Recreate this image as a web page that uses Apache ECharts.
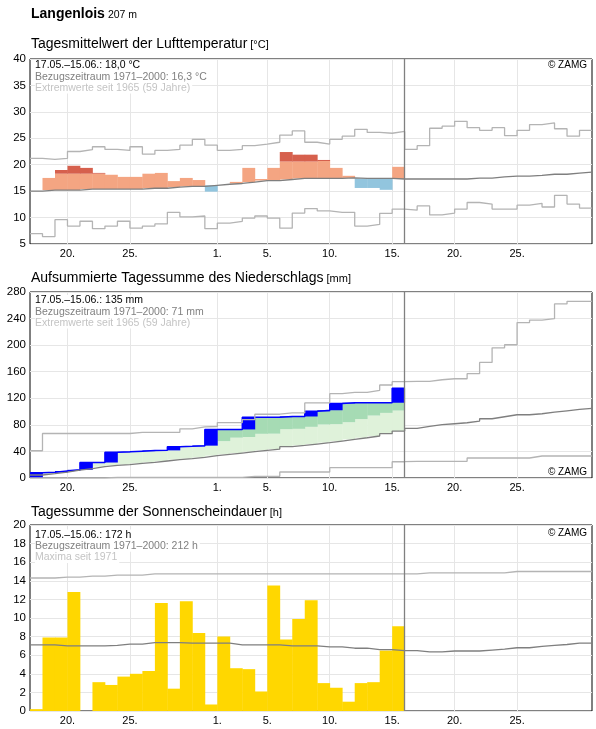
<!DOCTYPE html>
<html>
<head>
<meta charset="utf-8">
<script src="https://cdn.jsdelivr.net/npm/echarts@6/dist/echarts.min.js"></script>
<style>
  html, body { margin: 0; padding: 0; background: #fff; }
  #main { width: 596px; height: 729px; }
</style>
</head>
<body>
<div id="main"></div>
<script>
// days 17.05. - 30.06. (45 days), current period = first 30 days
const dayNums = [17,18,19,20,21,22,23,24,25,26,27,28,29,30,31,
  1,2,3,4,5,6,7,8,9,10,11,12,13,14,15,16,17,18,19,20,21,22,23,24,25,26,27,28,29,30];
const tickDays = [1, 5, 10, 15, 20, 25];

// temperature [°C]
const tempVal = [15.0, 17.5, 19.0, 19.8, 19.4, 18.45, 18.1, 17.7, 17.7, 18.3,
  18.45, 16.9, 17.5, 17.1, 14.9, 16.3, 16.75, 19.4, 17.3, 19.4,
  22.4, 21.9, 21.9, 20.9, 19.4, 17.9, 15.6, 15.6, 15.25, 19.6];
const tempCap = [null, null, 18.3, 18.3, 18.3, 18.3, null, null, null, null,
  null, null, null, null, null, null, null, null, null, null,
  20.6, 20.6, 20.6, 20.7, null, null, null, null, null, null];
const tempMean = [15.0, 15.2, 15.2, 15.2, 15.4, 15.4, 15.4, 15.4, 15.4, 15.55,
  15.55, 15.75, 15.9, 15.9, 16.1, 16.3, 16.45, 16.7, 17.0, 17.0,
  17.2, 17.4, 17.4, 17.4, 17.4, 17.5, 17.4, 17.4, 17.4, 17.3,
  17.3, 17.3, 17.3, 17.3, 17.3, 17.45, 17.45, 17.7, 17.85, 17.85,
  18.0, 18.2, 18.2, 18.4, 18.6];
const tempMax = [21.2, 21.0, 21.2, 22.5, 22.85, 23.4, 22.9, 22.7, 23.4, 22.0,
  22.7, 22.9, 23.7, 24.8, 23.7, 22.7, 22.9, 23.6, 23.9, 24.25,
  25.6, 26.4, 24.25, 23.9, 24.8, 25.4, 26.7, 26.1, 25.95, 26.3,
  22.9, 23.6, 26.9, 27.3, 28.2, 27.0, 26.5, 27.0, 25.5, 26.5,
  27.6, 27.9, 26.8, 25.4, 26.5];
const tempMin = [6.95, 6.4, 9.6, 8.4, 9.3, 7.9, 8.4, 9.3, 8.0, 8.4,
  8.8, 11.0, 10.15, 10.3, 7.9, 8.95, 9.3, 9.9, 10.3, 9.9,
  8.0, 10.85, 11.7, 11.25, 11.0, 11.0, 8.4, 8.7, 10.8, 11.6,
  11.4, 12.2, 10.5, 10.85, 11.6, 12.85, 12.55, 11.6, 11.6, 12.35,
  12.7, 12.0, 14.2, 12.55, 11.8];

// precipitation, accumulated [mm]
const precipCum = [8, 8.5, 10.5, 12.3, 23.3, 23.3, 38.6, 39.4, 40.4, 41.4,
  41.6, 47.2, 47.7, 48.7, 73.1, 73.1, 73.1, 91.3, 91.5, 91.6,
  92.6, 92.6, 100.3, 102, 112.3, 113.2, 113.2, 113.2, 113.3, 135];
const precipLight = [null, null, null, null, null, null, null, null, null, null,
  null, null, null, null, null, 55.5, 60.7, 61.7, 66.5, 66.7,
  73.5, 74, 77, 80.5, 81, 84, 88.7, 94, 98, 101.5];
const precipMean = [4.5, 6.5, 9.0, 12.0, 14.0, 17.0, 19.0, 20.1, 22.0, 23.6,
  25.6, 27.6, 29.1, 31.1, 33.6, 35.6, 37.6, 39.6, 41.6, 43.6,
  47.2, 49.1, 51.1, 53.1, 55.6, 58.1, 60.6, 63.2, 66.7, 70.7,
  74.7, 77.7, 80.2, 81.7, 83.2, 85.7, 89.2, 92.2, 95.2, 95.2,
  96.7, 99.2, 101.2, 103.2, 104.7];
const precipMax = [41, 67, 67, 67, 67, 67, 67, 67, 68.7, 68.7,
  68.7, 68.7, 74, 77, 77.5, 83.5, 83.5, 88, 96, 96,
  98, 98, 113, 113, 127, 129, 129, 132, 140, 145,
  145.4, 145.4, 147.9, 149.4, 149.4, 157, 174, 196, 200.6, 234,
  237.7, 240, 262, 266, 266];
const precipMin = [0, 0, 0, 0, 0, 0, 0.8, 0.8, 0.8, 0.8,
  0.8, 0.8, 0.8, 0.8, 0.8, 0.8, 0.8, 2.5, 2.5, 2.5,
  9, 9, 9, 9, 15.6, 15.6, 15.6, 15.6, 15.6, 24.5,
  25.1, 25.1, 25.1, 25.1, 25.1, 30.1, 30.1, 30.1, 30.1, 30.1,
  33.1, 33.1, 33.1, 33.1, 33.1];

// sunshine [h]
const sunVal = [0.2, 7.9, 7.9, 12.8, 0, 3.1, 2.8, 3.7, 4.0, 4.3,
  11.6, 2.4, 11.8, 8.4, 0.7, 8.0, 4.6, 4.5, 2.1, 13.5,
  7.7, 9.9, 11.9, 3.0, 2.5, 1.0, 3.0, 3.1, 6.5, 9.1];
const sunMean = [7.1, 7.1, 7.0, 7.0, 7.0, 7.0, 7.05, 7.2, 7.2, 7.35,
  7.35, 7.35, 7.3, 7.3, 7.3, 7.3, 7.1, 7.1, 7.1, 7.1,
  7.0, 7.0, 7.0, 6.9, 6.9, 6.75, 6.75, 6.6, 6.6, 6.5,
  6.5, 6.35, 6.35, 6.45, 6.45, 6.45, 6.55, 6.65, 6.8, 6.8,
  6.95, 7.05, 7.15, 7.3, 7.3];
const sunMax = [14.3, 14.3, 14.4, 14.4, 14.5, 14.5, 14.6, 14.6, 14.6, 14.75,
  14.75, 14.75, 14.75, 14.75, 14.75, 14.75, 14.75, 14.75, 14.75, 14.75,
  14.75, 14.75, 14.75, 14.75, 14.75, 14.75, 14.75, 14.75, 14.75, 14.75,
  14.75, 14.85, 14.85, 14.85, 14.85, 14.85, 14.85, 14.85, 15.0, 15.0,
  15.0, 15.0, 15.0, 15.0, 15.0];

const FONT = "'Liberation Sans', Arial, sans-serif";
const NDAYS = dayNums.length;
const PERIOD = tempVal.length;

const grids = [
  { left: 30, right: 4, top: 59, height: 185 },
  { left: 30, right: 4, top: 292, height: 186 },
  { left: 30, right: 4, top: 525, height: 186 }
];
const yRanges = [[5, 40, 5], [0, 280, 40], [0, 20, 2]];

function stepData(arr) {
  const d = arr.map((v, i) => [i, v]);
  d.push([arr.length, arr[arr.length - 1]]);
  return d;
}

function isTick(i) {
  return i > 0 && i < NDAYS && tickDays.includes(dayNums[i]);
}

const catLabels = dayNums.map(d => d + '.').concat(['']);

const xAxes = [];
const yAxes = [];
grids.forEach((g, gi) => {
  xAxes.push({
    type: 'value', gridIndex: gi, min: 0, max: NDAYS, show: false
  });
  xAxes.push({
    type: 'category', gridIndex: gi, position: 'bottom', boundaryGap: false,
    data: catLabels,
    axisLine: { show: false },
    axisTick: { show: false },
    axisLabel: {
      interval: (i) => isTick(i),
      color: '#000', fontFamily: FONT, fontSize: 11, margin: 4
    },
    splitLine: {
      show: true, interval: (i) => isTick(i),
      lineStyle: { color: '#e6e6e6', width: 1 }
    }
  });
  const r = yRanges[gi];
  yAxes.push({
    type: 'value', gridIndex: gi, min: r[0], max: r[1], interval: r[2],
    axisLine: { show: false },
    axisTick: { show: false },
    axisLabel: { color: '#000', fontFamily: FONT, fontSize: 11.5, margin: 4 },
    splitLine: { lineStyle: { color: '#e6e6e6', width: 1 } }
  });
});

function bandSeries(gi, data, color) {
  return {
    type: 'custom', xAxisIndex: gi * 2, yAxisIndex: gi, data: data,
    silent: true, clip: true, animation: false,
    encode: { x: 0, y: [1, 2] },
    renderItem: function (params, api) {
      const a = api.coord([api.value(0), api.value(1)]);
      const b = api.coord([api.value(0) + 1, api.value(2)]);
      return {
        type: 'rect',
        shape: {
          x: a[0], y: Math.min(a[1], b[1]),
          width: b[0] - a[0] + 0.4, height: Math.abs(a[1] - b[1])
        },
        style: { fill: color }
      };
    }
  };
}

function lineSeries(gi, arr, color, width, withMark) {
  const s = {
    type: 'line', xAxisIndex: gi * 2, yAxisIndex: gi,
    data: stepData(arr), step: 'end', symbol: 'none', silent: true,
    animation: false,
    lineStyle: { color: color, width: width }
  };
  if (withMark) {
    s.markLine = {
      silent: true, symbol: ['none', 'none'], label: { show: false },
      lineStyle: { color: '#808080', width: 1.3, type: 'solid' },
      data: [{ xAxis: PERIOD }]
    };
  }
  return s;
}

// temperature bands
const tLight = [], tDark = [], tBlue = [];
tempVal.forEach((v, k) => {
  const m = tempMean[k], c = tempCap[k];
  if (v > m) {
    tLight.push([k, m, c != null ? Math.min(v, c) : v]);
    if (c != null && v > c) tDark.push([k, c, v]);
  } else if (v < m) {
    tBlue.push([k, v, m]);
  }
});

// precipitation bands
const pLight = [], pDark = [], pBlue = [];
precipCum.forEach((v, k) => {
  const m = precipMean[k], l = precipLight[k];
  if (v > m) {
    pLight.push([k, m, l != null ? Math.min(v, l) : v]);
    if (l != null && v > l) pDark.push([k, l, v]);
  }
  const prev = k > 0 ? precipCum[k - 1] : 0;
  if (v > prev) pBlue.push([k, prev, v]);
});

const sBars = sunVal.map((v, k) => [k, 0, v]);

const series = [
  bandSeries(0, tLight, '#f4a582'),
  bandSeries(0, tDark, '#d6604d'),
  bandSeries(0, tBlue, '#92c5de'),
  lineSeries(0, tempMax, '#b4b4b4', 1.3, false),
  lineSeries(0, tempMin, '#b4b4b4', 1.3, false),
  lineSeries(0, tempMean, '#7f7f7f', 1.3, true),

  bandSeries(1, pLight, '#dff2da'),
  bandSeries(1, pDark, '#a6dbb4'),
  bandSeries(1, pBlue, '#0000ff'),
  lineSeries(1, precipCum, '#0000ff', 1.5, false),
  lineSeries(1, precipMax, '#b4b4b4', 1.3, false),
  lineSeries(1, precipMin, '#b4b4b4', 1.3, false),
  lineSeries(1, precipMean, '#7f7f7f', 1.3, true),

  bandSeries(2, sBars, '#ffd700'),
  lineSeries(2, sunMax, '#b4b4b4', 1.3, false),
  lineSeries(2, sunMean, '#7f7f7f', 1.3, true)
];

// text measuring for titles
const ctx = document.createElement('canvas').getContext('2d');
function textW(str, font) { ctx.font = font; return ctx.measureText(str).width; }

function txt(x, y, text, font, color, align, bg) {
  return {
    type: 'text', x: x, y: y, z: 100, silent: true,
    style: {
      text: text, font: font, fill: color, align: align || 'left',
      verticalAlign: 'middle',
      backgroundColor: bg || null, padding: bg ? [0, 2, 0, 0] : 0
    }
  };
}

const titleFont = '14px ' + FONT;
const unitFont = '11px ' + FONT;
const noteFont = '10.5px ' + FONT;
const panelTitles = [
  ['Tagesmittelwert der Lufttemperatur', '[°C]', 44],
  ['Aufsummierte Tagessumme des Niederschlags', '[mm]', 278],
  ['Tagessumme der Sonnenscheindauer', '[h]', 512]
];
const notes = [
  ['17.05.–15.06.: 18,0 °C', 'Bezugszeitraum 1971–2000: 16,3 °C', 'Extremwerte seit 1965 (59 Jahre)', 65.5],
  ['17.05.–15.06.: 135 mm', 'Bezugszeitraum 1971–2000: 71 mm', 'Extremwerte seit 1965 (59 Jahre)', 300.5],
  ['17.05.–15.06.: 172 h', 'Bezugszeitraum 1971–2000: 212 h', 'Maxima seit 1971', 535]
];
const zamgY = [65, 472.5, 533.5];

const graphic = [];
const boldFont = 'bold 14px ' + FONT;
graphic.push(txt(31, 14, 'Langenlois', boldFont, '#000'));
graphic.push(txt(31 + textW('Langenlois', boldFont) + 3, 15, '207 m', '10.5px ' + FONT, '#000'));
panelTitles.forEach(p => {
  graphic.push(txt(31, p[2], p[0], titleFont, '#000'));
  graphic.push(txt(31 + textW(p[0], titleFont) + 3, p[2] + 1, p[1], unitFont, '#000'));
});
notes.forEach(n => {
  const y0 = n[3];
  graphic.push(txt(35, y0, n[0], noteFont, '#000', 'left', '#fff'));
  graphic.push(txt(35, y0 + 11.3, n[1], noteFont, '#808080', 'left', '#fff'));
  graphic.push(txt(35, y0 + 22.6, n[2], noteFont, '#c4c4c4', 'left', '#fff'));
});
zamgY.forEach(y => graphic.push(txt(587, y, '© ZAMG', '10px ' + FONT, '#000', 'right')));

const chart = echarts.init(document.getElementById('main'), null, { renderer: 'canvas' });
chart.setOption({
  backgroundColor: '#fff',
  animation: false,
  grid: grids.map(g => Object.assign({ show: true, borderColor: '#000', borderWidth: 1, backgroundColor: 'transparent' }, g)),
  xAxis: xAxes,
  yAxis: yAxes,
  series: series,
  graphic: graphic
});
</script>
</body>
</html>
